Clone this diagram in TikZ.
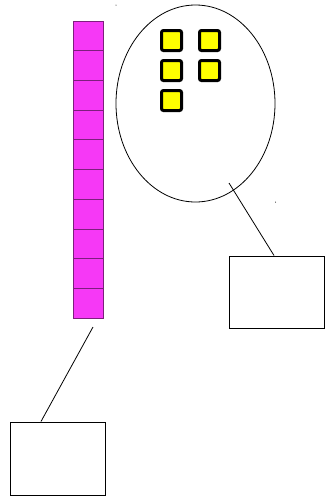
\documentclass[tikz,border=0pt]{standalone}
\usetikzlibrary{shapes.geometric}
\definecolor{BarMagenta}{RGB}{246,56,246}
\definecolor{BarEdge}{RGB}{125,30,125}
\definecolor{TokenYellow}{RGB}{255,255,0}

\begin{document}
\begin{tikzpicture}[x=1pt,y=-1pt,
  cell/.style={draw=BarEdge,fill=BarMagenta,line width=0.8pt,minimum width=30pt,minimum height=29.7pt,inner sep=0pt},
  token/.style={draw=black,fill=TokenYellow,line width=3pt,rounded corners=2pt,minimum size=20pt,inner sep=0pt},
  blank/.style={draw=black,line width=1pt,inner sep=0pt}]
\useasboundingbox (0,0) rectangle (327,496);
% stack of ten cells
\foreach \i in {0,...,9}
  \node[cell] (c\i) at (88,{35.85+29.7*\i}) {};
% set with five tokens
\node[draw,ellipse,line width=0.8pt,minimum width=159pt,minimum height=197pt,inner sep=0pt] (set) at (195.5,103.5) {};
\node[token] (t1) at (171.5,40.5) {};
\node[token] (t2) at (209.5,40.5) {};
\node[token] (t3) at (171.5,70.5) {};
\node[token] (t4) at (209.5,70.5) {};
\node[token] (t5) at (171.5,100.5) {};
% empty boxes
\node[blank,minimum width=95pt,minimum height=72pt] (rbox) at (276.5,292) {};
\node[blank,minimum width=95pt,minimum height=73pt] (lbox) at (57.5,458.5) {};
% pointers
\coordinate (sp) at (229,183);
\coordinate (bp) at (93,327);
\draw[line width=0.8pt] (sp) -- ([xshift=-2.5pt]rbox.north);
\draw[line width=0.8pt] (bp) -- ([xshift=-16.5pt]lbox.north);
% stray dots
\fill (116,5) circle (0.5pt);
\fill (275.5,202) circle (0.5pt);
\end{tikzpicture}
\end{document}
